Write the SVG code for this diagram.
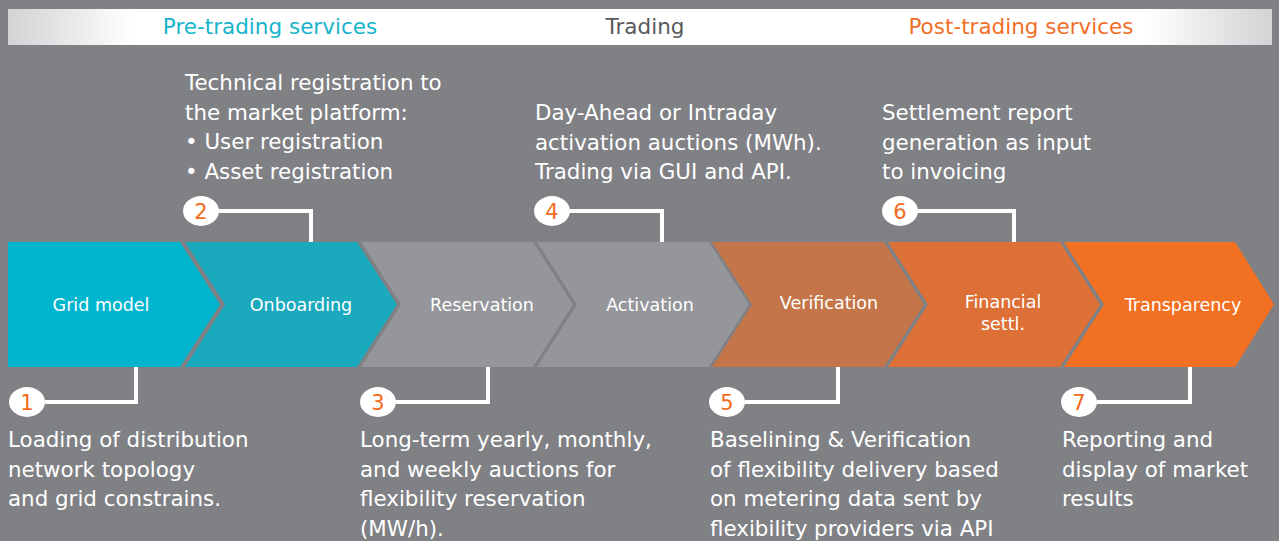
<svg xmlns="http://www.w3.org/2000/svg" width="1279" height="541" viewBox="0 0 1279 541">
<defs>
<linearGradient id="bar" x1="8" y1="0" x2="1272" y2="0" gradientUnits="userSpaceOnUse">
<stop offset="0" stop-color="#d2d3d5"/>
<stop offset="0.1" stop-color="#ffffff"/>
<stop offset="0.9" stop-color="#ffffff"/>
<stop offset="1" stop-color="#d2d3d5"/>
</linearGradient>
<style>
text{font-family:"DejaVu Sans","Liberation Sans",sans-serif;}
.hdr{font-size:21.5px;text-anchor:middle;}
.body{font-size:21.4px;fill:#ffffff;}
.lbl{font-size:17.5px;fill:#ffffff;text-anchor:middle;}
.num{font-size:21px;fill:#f26b21;text-anchor:middle;}
.badge{fill:#ffffff;}
.conn{fill:none;stroke:#ffffff;stroke-width:4;}
</style>
</defs>
<rect width="1279" height="541" fill="#808185"/>
<g id="header">
<rect x="8" y="9" width="1264" height="36" fill="url(#bar)"/>
<text class="hdr" x="270" y="34" fill="#17b4cb">Pre-trading services</text>
<text class="hdr" x="645" y="34" fill="#58595b">Trading</text>
<text class="hdr" x="1021" y="34" fill="#f06f28">Post-trading services</text>
</g>
<g id="connectors">
<path class="conn" d="M219,211 H311 V243"/>
<path class="conn" d="M570,211 H662 V243"/>
<path class="conn" d="M918,211 H1014 V243"/>
<path class="conn" d="M45,402 H136 V366"/>
<path class="conn" d="M396,402 H488 V366"/>
<path class="conn" d="M745,402 H838 V366"/>
<path class="conn" d="M1097,402 H1190 V366"/>
</g>
<g id="grid-model">
<polygon points="8,242 180,242 220,304.5 180,367 8,367" fill="#00b5cd"/>
<text class="lbl" x="101" y="311">Grid model</text>
</g>
<g id="onboarding">
<polygon points="185,242 357,242 397,304.5 357,367 185,367 225,304.5" fill="#1aa9bd"/>
<text class="lbl" x="301" y="311">Onboarding</text>
</g>
<g id="reservation">
<polygon points="361,242 533,242 573,304.5 533,367 361,367 401,304.5" fill="#959699"/>
<text class="lbl" x="482" y="311">Reservation</text>
</g>
<g id="activation">
<polygon points="537,242 709,242 749,304.5 709,367 537,367 577,304.5" fill="#959699"/>
<text class="lbl" x="650" y="311">Activation</text>
</g>
<g id="verification">
<polygon points="712,242 884,242 924,304.5 884,367 712,367 752,304.5" fill="#c4764a"/>
<text class="lbl" x="829" y="309">Verification</text>
</g>
<g id="financial-settl">
<polygon points="888,242 1060,242 1100,304.5 1060,367 888,367 928,304.5" fill="#dd7036"/>
<text class="lbl" x="1003" y="308">Financial</text>
<text class="lbl" x="1003" y="330">settl.</text>
</g>
<g id="transparency">
<polygon points="1064,242 1235,242 1274,304.5 1235,367 1064,367 1104,304.5" fill="#f27022"/>
<text class="lbl" x="1183" y="311">Transparency</text>
</g>
<g id="step-1">
<ellipse class="badge" cx="27" cy="402" rx="18" ry="15"/>
<text class="num" x="27" y="409.5">1</text>
<text class="body" x="8" y="447">Loading of distribution</text>
<text class="body" x="8" y="476.5">network topology</text>
<text class="body" x="8" y="506">and grid constrains.</text>
</g>
<g id="step-2">
<ellipse class="badge" cx="201" cy="211" rx="18" ry="15"/>
<text class="num" x="201" y="218.5">2</text>
<text class="body" x="185" y="90">Technical registration to</text>
<text class="body" x="185" y="119.5">the market platform:</text>
<text class="body" x="185" y="149">• User registration</text>
<text class="body" x="185" y="178.5">• Asset registration</text>
</g>
<g id="step-3">
<ellipse class="badge" cx="378" cy="402" rx="18" ry="15"/>
<text class="num" x="378" y="409.5">3</text>
<text class="body" x="360" y="447">Long-term yearly, monthly,</text>
<text class="body" x="360" y="476.5">and weekly auctions for</text>
<text class="body" x="360" y="506">flexibility reservation</text>
<text class="body" x="360" y="535.5">(MW/h).</text>
</g>
<g id="step-4">
<ellipse class="badge" cx="552" cy="211" rx="18" ry="15"/>
<text class="num" x="552" y="218.5">4</text>
<text class="body" x="535" y="120">Day-Ahead or Intraday</text>
<text class="body" x="535" y="149.5">activation auctions (MWh).</text>
<text class="body" x="535" y="179">Trading via GUI and API.</text>
</g>
<g id="step-5">
<ellipse class="badge" cx="727" cy="402" rx="18" ry="15"/>
<text class="num" x="727" y="409.5">5</text>
<text class="body" x="710" y="447">Baselining &amp; Verification</text>
<text class="body" x="710" y="476.5">of flexibility delivery based</text>
<text class="body" x="710" y="506">on metering data sent by</text>
<text class="body" x="710" y="535.5">flexibility providers via API</text>
</g>
<g id="step-6">
<ellipse class="badge" cx="900" cy="211" rx="18" ry="15"/>
<text class="num" x="900" y="218.5">6</text>
<text class="body" x="882" y="120">Settlement report</text>
<text class="body" x="882" y="149.5">generation as input</text>
<text class="body" x="882" y="179">to invoicing</text>
</g>
<g id="step-7">
<ellipse class="badge" cx="1079" cy="402" rx="18" ry="15"/>
<text class="num" x="1079" y="409.5">7</text>
<text class="body" x="1062" y="447">Reporting and</text>
<text class="body" x="1062" y="476.5">display of market</text>
<text class="body" x="1062" y="506">results</text>
</g>
</svg>
